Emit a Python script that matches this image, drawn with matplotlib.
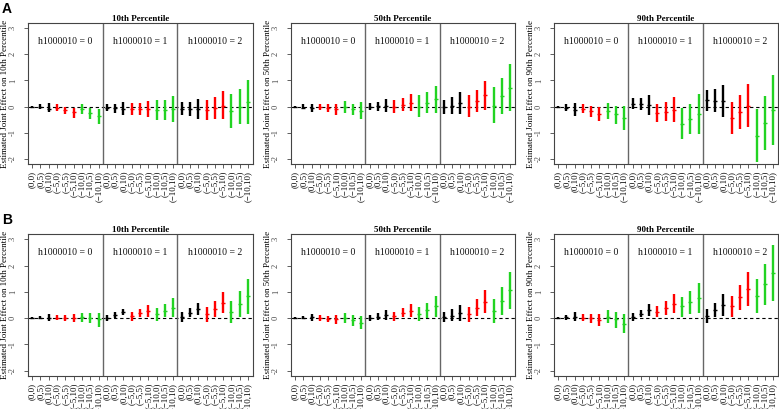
import matplotlib
matplotlib.use('Agg')
import matplotlib.pyplot as plt
from matplotlib.ticker import FixedLocator

# ---------------- data ----------------
categories = ['(0,0)', '(0,5)', '(0,10)', '(\u22125,0)', '(\u22125,5)', '(\u22125,10)',
              '(\u221210,0)', '(\u221210,5)', '(\u221210,10)']
groups = ['h1000010 = 0', 'h1000010 = 1', 'h1000010 = 2']
percentiles = ['10th', '50th', '90th']
panel_letters = ['A', 'B']
yticks = [-2, -1, 0, 1, 2, 3]

# Panel A
A10_est = [0.00, -0.03, -0.08, -0.06, -0.15, -0.22, -0.10, -0.25, -0.37,
           -0.04, -0.06, -0.08, -0.09, -0.08, -0.08, -0.14, -0.12, -0.09,
           -0.08, -0.09, -0.10, -0.13, -0.04, 0.01, -0.16, 0.00, 0.19]
A10_lo = [-0.04, -0.11, -0.22, -0.16, -0.28, -0.42, -0.30, -0.48, -0.68,
          -0.18, -0.23, -0.32, -0.33, -0.32, -0.39, -0.53, -0.52, -0.58,
          -0.34, -0.37, -0.49, -0.53, -0.46, -0.48, -0.84, -0.66, -0.66]
A10_hi = [0.04, 0.09, 0.13, 0.08, -0.03, -0.04, 0.09, -0.04, -0.08,
          0.11, 0.11, 0.16, 0.14, 0.15, 0.23, 0.24, 0.27, 0.39,
          0.18, 0.19, 0.30, 0.27, 0.37, 0.58, 0.47, 0.66, 1.03]

A50_est = [0.00, -0.04, -0.07, -0.01, -0.06, -0.11, -0.01, -0.09, -0.17,
           0.00, 0.01, 0.02, 0.00, 0.05, 0.15, 0.00, 0.14, 0.28,
           -0.02, 0.03, 0.12, 0.00, 0.21, 0.43, 0.03, 0.40, 0.72]
A50_lo = [-0.04, -0.11, -0.22, -0.14, -0.19, -0.33, -0.25, -0.33, -0.49,
          -0.15, -0.16, -0.22, -0.23, -0.18, -0.18, -0.39, -0.25, -0.23,
          -0.29, -0.27, -0.30, -0.41, -0.20, -0.14, -0.62, -0.30, -0.18]
A50_hi = [0.04, 0.08, 0.11, 0.11, 0.08, 0.10, 0.20, 0.11, 0.16,
          0.13, 0.18, 0.29, 0.24, 0.33, 0.48, 0.43, 0.56, 0.78,
          0.24, 0.35, 0.54, 0.43, 0.65, 0.97, 0.75, 1.08, 1.62]

A90_est = [0.00, -0.06, -0.12, -0.09, -0.18, -0.27, -0.17, -0.30, -0.42,
           0.11, 0.09, 0.06, -0.26, -0.19, -0.12, -0.65, -0.46, -0.28,
           0.24, 0.23, 0.22, -0.43, -0.20, 0.04, -1.12, -0.63, -0.14]
A90_lo = [-0.04, -0.16, -0.35, -0.25, -0.39, -0.57, -0.49, -0.66, -0.90,
          -0.09, -0.15, -0.32, -0.61, -0.54, -0.59, -1.25, -1.05, -1.04,
          -0.16, -0.22, -0.41, -1.06, -0.85, -0.80, -2.14, -1.65, -1.47]
A90_hi = [0.04, 0.10, 0.13, 0.09, 0.01, 0.00, 0.13, 0.04, 0.04,
          0.32, 0.34, 0.43, 0.08, 0.16, 0.37, -0.04, 0.11, 0.48,
          0.62, 0.66, 0.84, 0.18, 0.43, 0.86, -0.11, 0.39, 1.19]

# Panel B
B10_est = [0.00, 0.02, 0.02, 0.02, 0.00, -0.01, 0.03, 0.00, -0.04,
           0.02, 0.11, 0.22, 0.07, 0.18, 0.28, 0.14, 0.26, 0.39,
           0.04, 0.20, 0.33, 0.14, 0.36, 0.57, 0.24, 0.52, 0.84]
B10_lo = [-0.04, -0.05, -0.10, -0.08, -0.11, -0.16, -0.14, -0.20, -0.32,
          -0.09, -0.01, 0.11, -0.10, 0.04, 0.06, -0.11, 0.03, 0.03,
          -0.13, 0.03, 0.11, -0.13, 0.05, 0.19, -0.20, 0.03, 0.15]
B10_hi = [0.04, 0.09, 0.15, 0.11, 0.11, 0.15, 0.20, 0.19, 0.20,
          0.11, 0.23, 0.34, 0.24, 0.35, 0.51, 0.38, 0.54, 0.77,
          0.23, 0.39, 0.59, 0.41, 0.67, 1.00, 0.66, 1.04, 1.49]

B50_est = [0.00, 0.02, 0.03, 0.00, -0.02, -0.05, 0.00, -0.07, -0.17,
           0.02, 0.06, 0.12, 0.07, 0.19, 0.28, 0.14, 0.30, 0.45,
           0.03, 0.10, 0.20, 0.16, 0.39, 0.63, 0.27, 0.67, 1.06]
B50_lo = [-0.04, -0.05, -0.09, -0.10, -0.15, -0.23, -0.18, -0.29, -0.43,
          -0.10, -0.08, -0.06, -0.10, 0.05, 0.04, -0.11, 0.01, 0.04,
          -0.15, -0.11, -0.09, -0.13, 0.08, 0.20, -0.19, 0.11, 0.33]
B50_hi = [0.04, 0.09, 0.16, 0.11, 0.10, 0.13, 0.19, 0.13, 0.10,
          0.11, 0.19, 0.32, 0.24, 0.37, 0.53, 0.41, 0.58, 0.85,
          0.24, 0.35, 0.49, 0.43, 0.72, 1.06, 0.72, 1.19, 1.77]

B90_est = [0.00, 0.03, 0.06, 0.02, -0.01, -0.07, 0.04, -0.04, -0.21,
           0.04, 0.17, 0.31, 0.25, 0.39, 0.53, 0.45, 0.61, 0.77,
           0.07, 0.30, 0.51, 0.47, 0.79, 1.12, 0.84, 1.29, 1.73]
B90_lo = [-0.04, -0.06, -0.09, -0.11, -0.19, -0.30, -0.20, -0.37, -0.58,
          -0.11, 0.04, 0.10, 0.03, 0.11, 0.18, 0.06, 0.16, 0.19,
          -0.19, 0.03, 0.09, 0.06, 0.30, 0.47, 0.19, 0.49, 0.67]
B90_hi = [0.04, 0.11, 0.24, 0.15, 0.14, 0.16, 0.30, 0.22, 0.16,
          0.19, 0.32, 0.54, 0.46, 0.66, 0.90, 0.82, 1.04, 1.34,
          0.34, 0.59, 0.92, 0.86, 1.25, 1.75, 1.49, 2.06, 2.78]

panels = [
    [(A10_est, A10_lo, A10_hi), (A50_est, A50_lo, A50_hi), (A90_est, A90_lo, A90_hi)],
    [(B10_est, B10_lo, B10_hi), (B50_est, B50_lo, B50_hi), (B90_est, B90_lo, B90_hi)],
]

# ---------------- style ----------------
W, H = 779, 409
SERIF = ['Liberation Serif', 'DejaVu Serif']
col_black, col_red, col_green = '#000000', '#ff0000', '#22d322'
cat_colors = [col_black] * 3 + [col_red] * 3 + [col_green] * 3
frame_col = '#444444'

fig = plt.figure(figsize=(W / 100, H / 100), dpi=100)

row_px = [(23, 164), (234, 376)]
col_px = [(28, 253), (291, 515), (554, 778)]

n_groups = len(groups)
n_cat = len(categories)
xs = list(range(1, n_groups * n_cat + 1))
xlabels = categories * n_groups
colors = cat_colors * n_groups

for r, (top, bot) in enumerate(row_px):
    for c, (left, right) in enumerate(col_px):
        ax = fig.add_axes([left / W, 1 - bot / H, (right - left) / W, (bot - top) / H])
        est, lo, hi = panels[r][c]
        ax.axhline(0, color='black', lw=0.8, ls=(0, (3, 2.5)), zorder=1)
        ax.vlines(xs, lo, hi, colors=colors, lw=1.7, zorder=3)
        for x, e, col in zip(xs, est, colors):
            ax.plot([x], [e], marker='_', ms=3.5, mew=1.0, color=col, zorder=4)
        for k in range(1, n_groups):
            ax.axvline(k * n_cat + 0.5, color='#666666', lw=1.0, zorder=2)
        for k, g in enumerate(groups):
            ax.text(k * n_cat + (n_cat + 1) / 2, 2.5, g, ha='center', va='center',
                    fontsize=7, family=SERIF, color='#111111')
        ax.set_xlim(0.5, 27.6)
        ax.set_ylim(-2.2, 3.2)
        ax.set_xticks(xs)
        ax.set_xticklabels(xlabels, rotation=90, fontsize=6.3, family=SERIF)
        ax.yaxis.set_major_locator(FixedLocator(yticks))
        ax.set_yticklabels([str(v) for v in yticks], rotation=90, va='center',
                           fontsize=6, family=SERIF, color='#444444')
        ax.tick_params(axis='x', length=3, width=0.6, color=frame_col, pad=2)
        ax.tick_params(axis='y', length=3, width=0.6, color=frame_col, pad=5)
        for s in ax.spines.values():
            s.set_color(frame_col)
            s.set_linewidth(0.8)
        ax.set_title(percentiles[c] + ' Percentile', fontsize=6.5, fontweight='bold',
                     family=SERIF, pad=1.5)
        ax.set_ylabel('Estimated Joint Effect on ' + percentiles[c] + ' Percentile',
                      fontsize=6.5, family=SERIF, labelpad=0)
    fig.text(2 / W, 1 - (top - 21) / H, panel_letters[r], fontsize=10, fontweight='bold',
             family=['Liberation Sans', 'DejaVu Sans'], ha='left', va='top')

fig.savefig('out.png', dpi=100)
